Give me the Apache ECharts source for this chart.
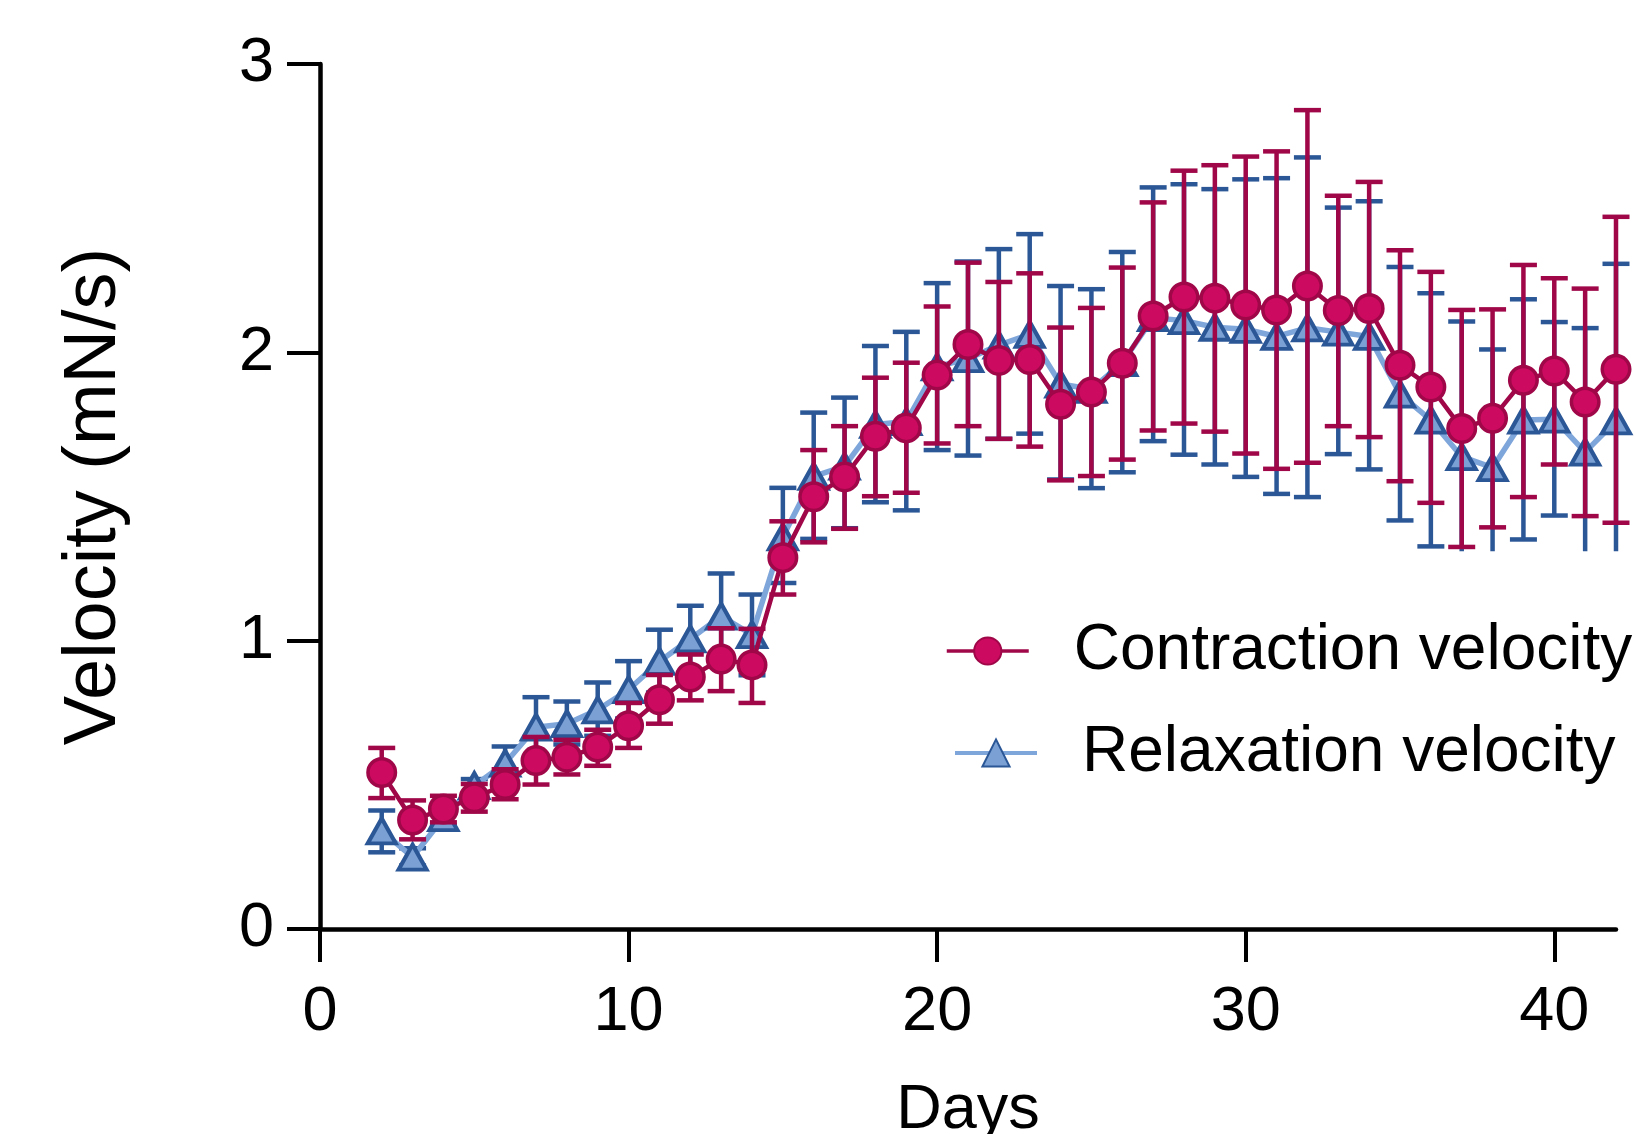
<!DOCTYPE html>
<html>
<head>
<meta charset="utf-8">
<title>Velocity</title>
<script src="https://cdn.jsdelivr.net/npm/echarts@6/dist/echarts.min.js"></script>
<style>
    html, body { margin: 0; padding: 0; background: #fff; }
    #main { width: 1636px; height: 1134px; }
</style>
</head>
<body>
<div id="main"></div>
<script>
// days of measurement
var days = [2, 3, 4, 5, 6, 7, 8, 9, 10, 11, 12, 13, 14, 15, 16, 17, 18, 19, 20, 21, 22,
    23, 24, 25, 26, 27, 28, 29, 30, 31, 32, 33, 34, 35, 36, 37, 38, 39, 40, 41, 42];

// contraction velocity (mean, lower and upper end of error bar)
var conMean = [0.543, 0.378, 0.416, 0.455, 0.501, 0.584, 0.596, 0.631, 0.705, 0.795, 0.874, 0.936, 0.916,
    1.288, 1.499, 1.568, 1.709, 1.738, 1.921, 2.027, 1.972, 1.975, 1.820, 1.862, 1.962, 2.126, 2.192,
    2.188, 2.164, 2.147, 2.230, 2.145, 2.152, 1.955, 1.880, 1.736, 1.771, 1.903, 1.935, 1.828, 1.941];
var conLow = [0.454, 0.311, 0.370, 0.407, 0.450, 0.501, 0.536, 0.566, 0.628, 0.712, 0.793, 0.825, 0.784,
    1.160, 1.341, 1.388, 1.501, 1.513, 1.684, 1.744, 1.700, 1.673, 1.556, 1.571, 1.628, 1.729, 1.753,
    1.725, 1.649, 1.596, 1.617, 1.744, 1.706, 1.553, 1.478, 1.325, 1.393, 1.498, 1.611, 1.432, 1.409];
var conHigh = [0.628, 0.446, 0.462, 0.503, 0.554, 0.666, 0.656, 0.691, 0.784, 0.881, 0.952, 1.043, 1.041,
    1.414, 1.661, 1.744, 1.912, 1.964, 2.159, 2.311, 2.244, 2.274, 2.086, 2.154, 2.294, 2.520, 2.630,
    2.649, 2.679, 2.697, 2.840, 2.543, 2.591, 2.354, 2.279, 2.147, 2.149, 2.303, 2.257, 2.221, 2.470];

// relaxation velocity
var relMean = [0.340, 0.249, 0.386, 0.497, 0.575, 0.700, 0.712, 0.760, 0.830, 0.928, 1.006, 1.085, 1.021,
    1.360, 1.570, 1.605, 1.750, 1.760, 1.950, 1.978, 2.025, 2.062, 1.890, 1.872, 1.964, 2.120, 2.110,
    2.087, 2.080, 2.055, 2.085, 2.070, 2.055, 1.855, 1.765, 1.638, 1.600, 1.765, 1.768, 1.654, 1.762];
var relLow = [0.266, 0.220, 0.360, 0.470, 0.520, 0.600, 0.640, 0.670, 0.730, 0.820, 0.890, 0.940, 0.880,
    1.200, 1.353, 1.390, 1.480, 1.452, 1.661, 1.642, 1.700, 1.718, 1.559, 1.529, 1.584, 1.692, 1.645,
    1.611, 1.568, 1.509, 1.498, 1.647, 1.594, 1.417, 1.327, 1.310, 1.310, 1.351, 1.434, 1.310, 1.310];
var relHigh = [0.411, 0.280, 0.410, 0.520, 0.633, 0.804, 0.789, 0.855, 0.929, 1.038, 1.121, 1.233, 1.160,
    1.530, 1.791, 1.843, 2.022, 2.071, 2.240, 2.315, 2.358, 2.410, 2.230, 2.219, 2.348, 2.572, 2.583,
    2.566, 2.600, 2.604, 2.676, 2.502, 2.524, 2.296, 2.205, 2.107, 2.010, 2.184, 2.105, 2.084, 2.307];
// days whose lower relaxation bar is cut off (no cap)
var relOpenLow = [37, 38, 41, 42];

var xTicks = [0, 10, 20, 30, 40];

var FONT = 'Liberation Sans';
var RED = '#cc0a5f', RED_DARK = '#9f0749';
var BLUE = '#7aa0d4', BLUE_DARK = '#2b5797', BLUE_LINE = '#7fa6da';

function pairs(ys) {
    return days.map(function (d, i) { return [d, ys[i]]; });
}

function bars(lows, highs, open) {
    return days.map(function (d, i) {
        return [d, lows[i], highs[i], open.indexOf(d) >= 0 ? 1 : 0];
    });
}

// error bar drawing for custom series
function errorBar(color) {
    return function (params, api) {
        var x = api.value(0);
        var lo = api.coord([x, api.value(1)]);
        var hi = api.coord([x, api.value(2)]);
        var w = 13.5;
        var st = {stroke: color, lineWidth: 4.5, fill: null};
        var kids = [
            {type: 'line', shape: {x1: hi[0], y1: hi[1], x2: lo[0], y2: lo[1]}, style: st},
            {type: 'line', shape: {x1: hi[0] - w, y1: hi[1], x2: hi[0] + w, y2: hi[1]}, style: st}
        ];
        if (!api.value(3)) {
            kids.push({type: 'line', shape: {x1: lo[0] - w, y1: lo[1], x2: lo[0] + w, y2: lo[1]}, style: st});
        }
        return {type: 'group', children: kids};
    };
}

var myChart = echarts.init(document.getElementById('main'));

var axisCommon = {
    axisLine: {lineStyle: {color: '#000', width: 4.5}},
    axisTick: {length: 33, lineStyle: {color: '#000', width: 4}},
    splitLine: {show: false},
    nameLocation: 'middle'
};

var legendText = {fontFamily: FONT, fontSize: 64, color: '#000', rich: {g: {width: 40}}};

var option = {
    animation: false,
    backgroundColor: '#fff',
    grid: {left: 320, right: 20, top: 64, bottom: 205, outerBoundsMode: 'none'},
    legend: [
        {
            data: ['Contraction velocity'],
            left: 945, top: 619,
            itemWidth: 82, itemHeight: 34, padding: 0,
            lineStyle: {width: 3.5},
            formatter: function (name) { return '{g| }' + name; },
            textStyle: legendText
        },
        {
            data: ['Relaxation velocity'],
            left: 953, top: 721,
            itemWidth: 82, itemHeight: 34, padding: 0,
            lineStyle: {width: 4},
            formatter: function (name) { return '{g| }' + name; },
            textStyle: legendText
        }
    ],
    xAxis: echarts.util.merge({
        type: 'value', min: 0, max: 42, interval: 10,
        name: 'Days', nameGap: 150,
        nameTextStyle: {fontFamily: FONT, fontSize: 63, color: '#000'},
        axisLabel: {customValues: xTicks, margin: 52, fontFamily: FONT, fontSize: 63, color: '#000'},
        axisTick: {customValues: xTicks}
    }, axisCommon),
    yAxis: echarts.util.merge({
        type: 'value', min: 0, max: 3, interval: 1,
        name: 'Velocity (mN/s)', nameGap: 188,
        nameTextStyle: {fontFamily: FONT, fontSize: 74, color: '#000'},
        axisLabel: {margin: 46, fontFamily: FONT, fontSize: 63, color: '#000'}
    }, axisCommon),
    series: [
        {
            name: 'relax err', type: 'custom', z: 2,
            renderItem: errorBar(BLUE_DARK),
            encode: {x: 0, y: [1, 2]},
            data: bars(relLow, relHigh, relOpenLow)
        },
        {
            name: 'Relaxation velocity', type: 'line', z: 3,
            symbol: 'triangle', symbolSize: [28, 25],
            lineStyle: {color: BLUE_LINE, width: 5.5},
            itemStyle: {color: BLUE, borderColor: BLUE_DARK, borderWidth: 4},
            data: pairs(relMean)
        },
        {
            name: 'contr err', type: 'custom', z: 4,
            renderItem: errorBar(RED_DARK),
            encode: {x: 0, y: [1, 2]},
            data: bars(conLow, conHigh, [])
        },
        {
            name: 'Contraction velocity', type: 'line', z: 5,
            symbol: 'circle', symbolSize: 27.5,
            lineStyle: {color: RED_DARK, width: 4.5},
            itemStyle: {color: RED, borderColor: RED_DARK, borderWidth: 3.5},
            data: pairs(conMean)
        }
    ]
};

myChart.setOption(option);
</script>
</body>
</html>
